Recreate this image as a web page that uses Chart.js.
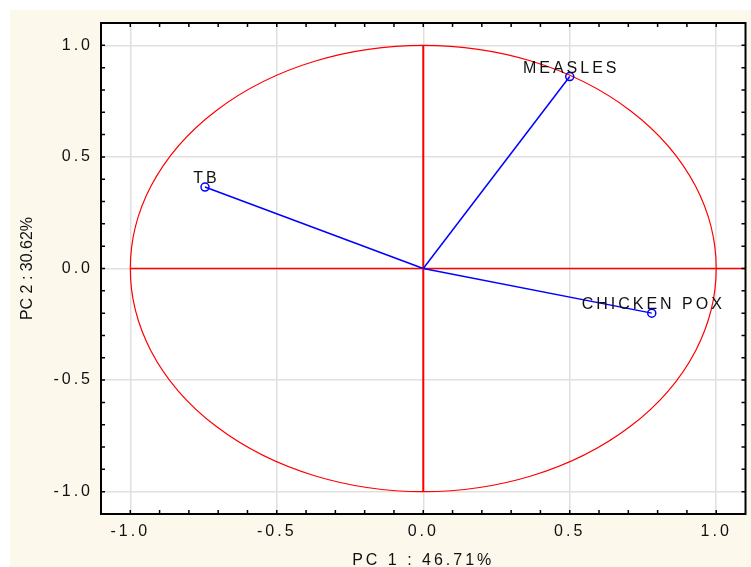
<!DOCTYPE html>
<html>
<head>
<meta charset="utf-8">
<script src="https://cdn.jsdelivr.net/npm/chart.js@4.4.1/dist/chart.umd.min.js"></script>
<style>
html, body { margin: 0; padding: 0; background: #fff; }
#wrap { width: 751px; height: 567px; }
</style>
</head>
<body>
<div id="wrap"><canvas id="pca" width="751" height="567"></canvas></div>
<script>
// Változók és a két főkomponens menti koordináták
const variables = ['MEASLES', 'TB', 'CHICKEN POX'];
const pc1 = [0.50, -0.745, 0.78];
const pc2 = [0.86, 0.365, -0.20];

// Tengely beosztások
const tickValues = [-1, -0.5, 0, 0.5, 1];
const tickLabels = ['-1.0', '-0.5', '0.0', '0.5', '1.0'];
const minorStep = 0.1;
const axisMin = -1.1;
const axisMax = 1.1;
const circleRadius = 1;

const xTitle = 'PC 1 : 46.71%';
const yTitle = 'PC 2 : 30.62%';

const fontFamily = "'Liberation Sans', Arial, sans-serif";
Chart.defaults.font.family = fontFamily;
Chart.defaults.color = '#111';

// Hátterek, kör, keret, feliratok
const pcaPlugin = {
    id: 'pcaPlugin',
    beforeDraw(chart) {
        const { ctx, chartArea: a, width, height } = chart;
        ctx.save();
        ctx.fillStyle = '#ffffff';
        ctx.fillRect(0, 0, width, height);
        ctx.fillStyle = '#fdf8ec';
        ctx.fillRect(10, 10, width - 10, height - 10);
        ctx.fillStyle = '#ffffff';
        ctx.fillRect(a.left, a.top, a.right - a.left, a.bottom - a.top);
        ctx.restore();
        // széthúzott betűk, mint az eredetin
        ctx.letterSpacing = '3px';
    },
    beforeDatasetsDraw(chart) {
        const { ctx, chartArea: a, scales: { x, y } } = chart;
        const cx = x.getPixelForValue(0);
        const cy = y.getPixelForValue(0);
        const rx = x.getPixelForValue(circleRadius) - cx;
        const ry = cy - y.getPixelForValue(circleRadius);
        ctx.save();
        ctx.beginPath();
        ctx.rect(a.left, a.top, a.right - a.left, a.bottom - a.top);
        ctx.clip();
        ctx.strokeStyle = '#ff0000';
        // kör
        ctx.lineWidth = 1.2;
        ctx.beginPath();
        ctx.ellipse(cx, cy, rx, ry, 0, 0, Math.PI * 2);
        ctx.stroke();
        // vízszintes tengely
        ctx.lineWidth = 1.5;
        ctx.beginPath();
        ctx.moveTo(x.getPixelForValue(-circleRadius), cy);
        ctx.lineTo(a.right, cy);
        ctx.stroke();
        // függőleges tengely
        ctx.lineWidth = 2;
        ctx.beginPath();
        ctx.moveTo(cx, y.getPixelForValue(circleRadius));
        ctx.lineTo(cx, y.getPixelForValue(-circleRadius));
        ctx.stroke();
        ctx.restore();
    },
    afterDatasetsDraw(chart) {
        const { ctx } = chart;
        ctx.save();
        ctx.letterSpacing = '3px';
        ctx.font = '16px ' + fontFamily;
        ctx.fillStyle = '#111';
        ctx.textAlign = 'center';
        ctx.textBaseline = 'alphabetic';
        chart.data.datasets.forEach((ds, i) => {
            const pt = chart.getDatasetMeta(i).data[1];
            ctx.fillText(ds.label, pt.x + 1.5, pt.y - 4);
        });
        ctx.restore();
    },
    afterDraw(chart) {
        const { ctx, chartArea: a, scales: { x, y } } = chart;
        ctx.save();
        ctx.strokeStyle = '#000';
        // kis beosztások mind a négy oldalon
        ctx.lineWidth = 1.5;
        ctx.beginPath();
        for (let k = -10; k <= 10; k++) {
            const v = k * minorStep;
            const px = x.getPixelForValue(v);
            const py = y.getPixelForValue(v);
            ctx.moveTo(px, a.bottom); ctx.lineTo(px, a.bottom - 4);
            ctx.moveTo(px, a.top); ctx.lineTo(px, a.top + 4);
            ctx.moveTo(a.left, py); ctx.lineTo(a.left + 4, py);
            ctx.moveTo(a.right, py); ctx.lineTo(a.right - 4, py);
        }
        ctx.stroke();
        // keret
        ctx.lineWidth = 2;
        ctx.strokeRect(a.left, a.top, a.right - a.left, a.bottom - a.top);
        // függőleges tengelycím
        ctx.letterSpacing = '0px';
        ctx.translate(28, (a.top + a.bottom) / 2);
        ctx.rotate(-Math.PI / 2);
        ctx.font = '16px ' + fontFamily;
        ctx.fillStyle = '#111';
        ctx.textAlign = 'center';
        ctx.textBaseline = 'middle';
        ctx.fillText(yTitle, 0, 0);
        ctx.restore();
    }
};

// Vektorok az origóból
const datasets = variables.map((name, i) => ({
    label: name,
    data: [{ x: 0, y: 0 }, { x: pc1[i], y: pc2[i] }],
    showLine: true,
    borderColor: '#0000ff',
    borderWidth: 1.5,
    pointRadius: [0, 4],
    pointHoverRadius: [0, 4],
    pointBorderColor: '#0000ff',
    pointBackgroundColor: 'rgba(0,0,0,0)',
    pointBorderWidth: 1.5
}));

function setTicks(scale) {
    scale.ticks = tickValues.map(v => ({ value: v }));
}

new Chart(document.getElementById('pca'), {
    type: 'scatter',
    data: { datasets: datasets },
    plugins: [pcaPlugin],
    options: {
        responsive: false,
        animation: false,
        layout: { padding: { top: 23, right: 4, left: 0, bottom: 0 } },
        plugins: {
            legend: { display: false },
            tooltip: { enabled: false }
        },
        scales: {
            x: {
                type: 'linear',
                min: axisMin,
                max: axisMax,
                afterBuildTicks: setTicks,
                afterFit(scale) { scale.height = 53; },
                grid: { color: '#e0e0e0', lineWidth: 1.5, drawTicks: false },
                border: { display: false },
                ticks: {
                    padding: 8,
                    maxRotation: 0,
                    font: { size: 16 },
                    color: '#111',
                    callback: (v, i) => tickLabels[i]
                },
                title: {
                    display: true,
                    text: xTitle,
                    font: { size: 16, lineHeight: 1 },
                    color: '#111',
                    padding: { top: 0, bottom: -2 }
                }
            },
            y: {
                type: 'linear',
                min: axisMin,
                max: axisMax,
                afterBuildTicks: setTicks,
                afterFit(scale) { scale.width = 101; },
                grid: { color: '#e0e0e0', lineWidth: 1.5, drawTicks: false },
                border: { display: false },
                ticks: {
                    padding: 8,
                    font: { size: 16 },
                    color: '#111',
                    callback: (v, i) => tickLabels[i]
                }
            }
        }
    }
});
</script>
</body>
</html>
